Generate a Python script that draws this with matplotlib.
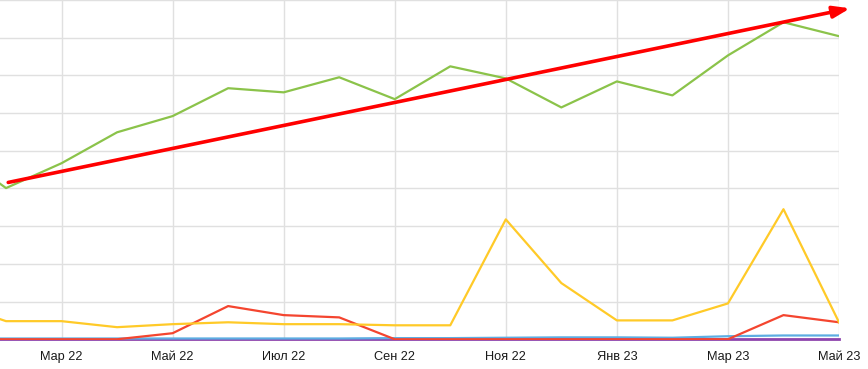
import matplotlib.pyplot as plt

plt.rcParams['font.family'] = ['Liberation Sans', 'DejaVu Sans']

# months Jan 22 .. May 23
months = ['Янв 22', 'Фев 22', 'Мар 22', 'Апр 22', 'Май 22', 'Июн 22', 'Июл 22', 'Авг 22',
          'Сен 22', 'Окт 22', 'Ноя 22', 'Дек 22', 'Янв 23', 'Фев 23', 'Мар 23', 'Апр 23', 'Май 23']
green = [509, 401, 467, 549, 592, 666, 655, 695, 637, 724, 692, 615, 684, 647, 753, 841, 804]
yellow = [98, 48, 48, 32, 40, 45, 40, 40, 37, 37, 318, 149, 50, 50, 95, 345, 45]
red = [0, 0, 0, 0, 16, 88, 64, 58, 0, 0, 0, 0, 0, 0, 0, 64, 45]
blue = [2, 2, 2, 2, 2, 2, 2, 2, 3, 3, 4, 5, 5, 4, 8, 10, 10]
purple = [0] * 17

# trend arrow (start/end in data coords)
trend_start = (1.04, 416)
trend_end = (16.2, 878)

x = list(range(len(months)))

fig = plt.figure(figsize=(8.68, 3.69), dpi=100)
ax = fig.add_axes([0, 29 / 369, 839 / 868, 340 / 369])

ax.plot(x, purple, color='#8e44ad', lw=2, clip_on=False, zorder=3)
ax.plot(x, blue, color='#5dade2', lw=1.6, zorder=3)
ax.plot(x, red, color='#f4452f', lw=1.6, zorder=3)
ax.plot(x, yellow, color='#ffca28', lw=1.6, zorder=3)
ax.plot(x, green, color='#8bc34a', lw=1.6, zorder=3)

ax.annotate('', xy=trend_end, xytext=trend_start,
            arrowprops=dict(arrowstyle='-|>,head_length=1.0,head_width=0.35',
                            color='#ff0000', lw=2.6, shrinkA=0, shrinkB=0),
            annotation_clip=False, zorder=5)

ax.set_xlim(1 - 6 / 55.5, 16)
ax.set_ylim(-2, 900)
ax.set_xticks(x[2::2])
ax.set_xticklabels(months[2::2], fontsize=9.2, color='#1a1a1a')
ax.set_yticks(range(0, 901, 100))
ax.set_yticklabels([])
ax.tick_params(length=0, pad=8)
ax.grid(True, color='#e0e0e0', lw=1)
ax.set_axisbelow(True)
for s in ax.spines.values():
    s.set_visible(False)

plt.savefig('out.png', dpi=100)
